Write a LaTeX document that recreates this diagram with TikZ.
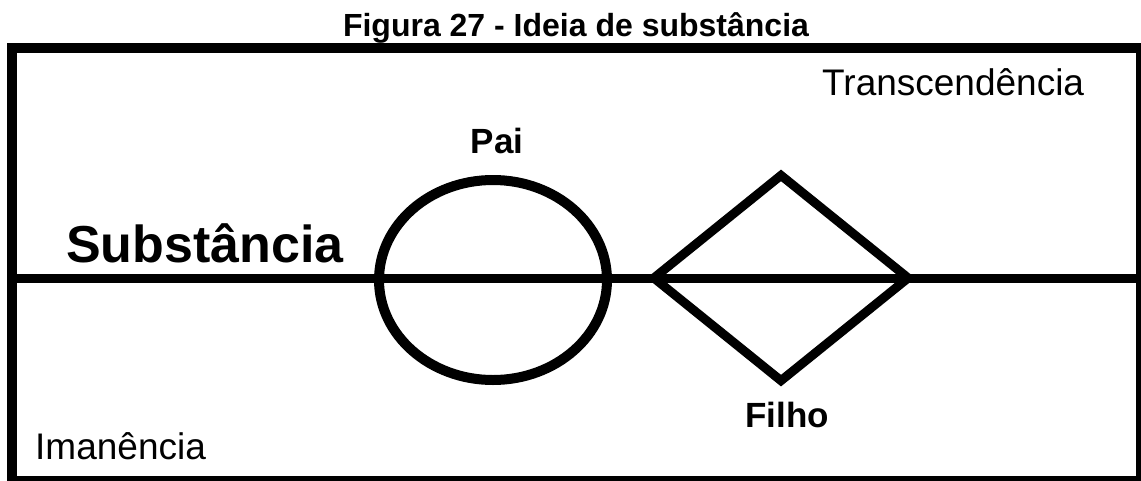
\documentclass[tikz,border=0pt]{standalone}
\usepackage{fontspec}
\setmainfont{Liberation Sans}
\usetikzlibrary{shapes.geometric}

\begin{document}
\begin{tikzpicture}[
    x=1pt, y=-1pt,
    % lines and shapes
    frameline/.style={draw, line width=10pt},
    axisline/.style={draw, line width=9pt},
    paishape/.style={ellipse, draw, line width=10pt, minimum width=228pt, minimum height=200pt, inner sep=0pt},
    filhoshape/.style={diamond, draw, line width=9pt, minimum width=258pt, minimum height=209pt, inner sep=0pt},
    % texts
    ttl/.style={font=\fontsize{32}{38}\selectfont\bfseries, inner sep=0pt},
    bigname/.style={font=\fontsize{52}{62}\selectfont\bfseries, inner sep=0pt},
    smallname/.style={font=\fontsize{35}{42}\selectfont\bfseries, inner sep=0pt},
    region/.style={font=\fontsize{37}{44}\selectfont, inner sep=0pt},
]
\useasboundingbox (0,0) rectangle (1141,480);

% =========================================================
% Title and frame
% =========================================================
\node[ttl, anchor=base] (title) at (576,36) {Figura 27 - Ideia de substância};

\coordinate (frameNW) at (11.5,48);
\coordinate (frameSE) at (1141,481);
\draw[frameline] (frameNW) rectangle (frameSE);

% =========================================================
% Substance line
% =========================================================
\coordinate (axisL) at (11.5,278);
\coordinate (axisR) at (1141,278);
\draw[axisline] (axisL) -- (axisR);

\node[bigname, anchor=base west] (subst) at (66,262) {Substância};

% =========================================================
% Pai and Filho
% =========================================================
\node[paishape]   (pai)   at (493,280) {};
\node[filhoshape] (filho) at (781,278) {};

\node[smallname, anchor=base] (paiL)   at (497,153) {Pai};
\node[smallname, anchor=base] (filhoL) at (787,427) {Filho};

% =========================================================
% Regions
% =========================================================
\node[region, anchor=base west] (transc) at (822,95)  {Transcendência};
\node[region, anchor=base west] (iman)   at (35,459)  {Imanência};

\end{tikzpicture}
\end{document}
